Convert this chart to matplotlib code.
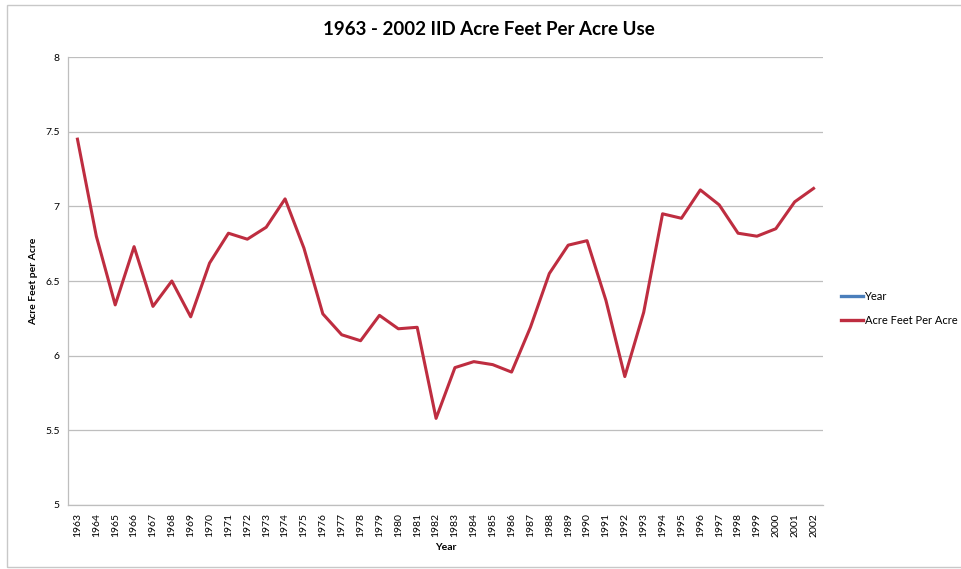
import matplotlib
matplotlib.use("Agg")
import matplotlib.pyplot as plt
from matplotlib.lines import Line2D

plt.rcParams['font.family'] = ['Lato', 'DejaVu Sans']

# data
years = list(range(1963, 2003))
acre_feet = [7.45, 6.80, 6.34, 6.73, 6.33, 6.50, 6.26, 6.62, 6.82, 6.78,
             6.86, 7.05, 6.72, 6.28, 6.14, 6.10, 6.27, 6.18, 6.19, 5.58,
             5.92, 5.96, 5.94, 5.89, 6.19, 6.55, 6.74, 6.77, 6.37, 5.86,
             6.29, 6.95, 6.92, 7.11, 7.01, 6.82, 6.80, 6.85, 7.03, 7.12]
y_ticks = [5, 5.5, 6, 6.5, 7, 7.5, 8]

fig = plt.figure(figsize=(9.62, 5.69), dpi=100)
ax = fig.add_axes([0.0707, 0.1125, 0.7848, 0.7873])

# "Year" series is plotted too, it just lands far off the value axis
ax.plot(years, years, color='#4A7EBB', linewidth=2.2, label='Year')
ax.plot(years, acre_feet, color='#BE2D40', linewidth=2.2, label='Acre Feet Per Acre')

ax.set_xlim(1962.5, 2002.5)
ax.set_ylim(5, 8)
ax.set_yticks(y_ticks)
ax.set_yticklabels([f"{t:g}" for t in y_ticks], fontsize=7.5)
ax.set_xticks(years)
ax.set_xticklabels([str(y) for y in years], rotation=90, fontsize=7.5)
ax.tick_params(axis='both', length=0, pad=6)
ax.grid(axis='y', color='#BEBEBE', linewidth=0.9)
ax.set_axisbelow(True)
for side in ['top', 'right']:
    ax.spines[side].set_visible(False)
for side in ['left', 'bottom']:
    ax.spines[side].set_color('#BEBEBE')
    ax.spines[side].set_linewidth(0.9)

ax.set_xlabel('Year', fontsize=7.5, fontweight='bold', labelpad=4)
ax.set_ylabel('Acre Feet per Acre', fontsize=7.5, fontweight='bold', labelpad=5)

fig.text(0.508, 0.948, '1963 - 2002 IID Acre Feet Per Acre Use', ha='center', va='center',
         fontsize=13.5, fontweight='bold')

handles = [Line2D([], [], color='#4A7EBB', linewidth=2.4),
           Line2D([], [], color='#BE2D40', linewidth=2.4)]
fig.legend(handles, ['Year', 'Acre Feet Per Acre'], loc='center left',
           bbox_to_anchor=(0.864, 0.458), frameon=False, fontsize=8,
           handlelength=2.0, handletextpad=0.1, labelspacing=1.1)

# chart-area border
border = plt.Rectangle((7 / 962, 2 / 569), 1.2, 1 - 7 / 569, transform=fig.transFigure,
                       fill=False, edgecolor='#C8C8C8', linewidth=1.0)
fig.patches.append(border)

fig.savefig('out.png', dpi=100)
